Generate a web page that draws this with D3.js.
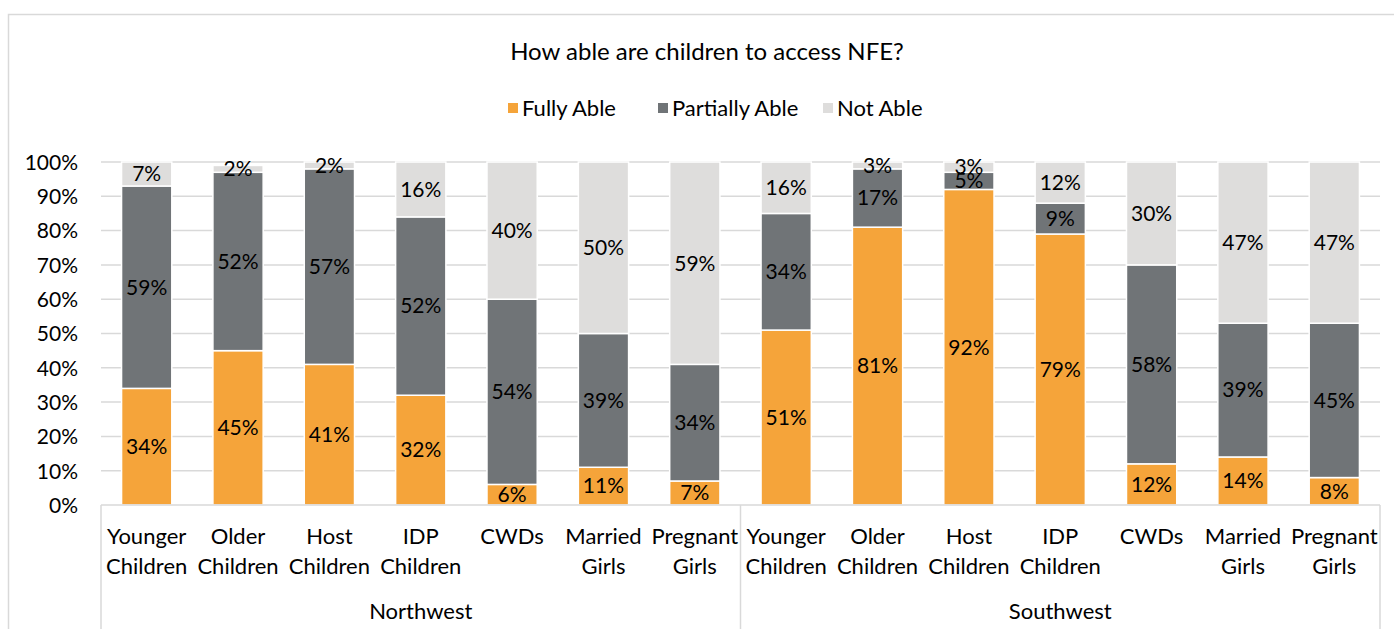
<!DOCTYPE html>
<html>
<head>
<meta charset="utf-8">
<script src="https://cdn.jsdelivr.net/npm/d3@7"></script>
<style>
  body { margin: 0; background: #fff; }
  text { font-family: Lato, "Open Sans", sans-serif; fill: #000; }
</style>
</head>
<body>
<div id="canvas"></div>
<script>
"use strict"

/* data */
let groups = ["Northwest", "Southwest"];
let categories = ["Younger|Children", "Older|Children", "Host|Children", "IDP|Children",
    "CWDs", "Married|Girls", "Pregnant|Girls"];
let seriesNames = ["Fully Able", "Partially Able", "Not Able"];
let fullyAble     = [34, 45, 41, 32, 6, 11, 7,   51, 81, 92, 79, 12, 14, 8];
let partiallyAble = [59, 52, 57, 52, 54, 39, 34, 34, 17, 5, 9, 58, 39, 45];
let notAble       = [7, 2, 2, 16, 40, 50, 59,    16, 3, 3, 12, 30, 47, 47];
let yTicks = [0, 10, 20, 30, 40, 50, 60, 70, 80, 90, 100];

let colors = ["#F5A43A", "#707477", "#DEDDDC"];

/* one row per bar, built from the arrays */
let rows = [];
groups.forEach(function (g, gi) {
    categories.forEach(function (c, ci) {
        let i = gi * categories.length + ci;
        rows.push({ key: g + ":" + c, group: g, label: c,
            "Fully Able": fullyAble[i], "Partially Able": partiallyAble[i], "Not Able": notAble[i] });
    });
});

let drawing = d3.select("#canvas")
    .append("svg")
    .attr("width", 1394)
    .attr("height", 629);

/* outer chart border */
drawing.append("rect")
    .attr("x", 8.5).attr("y", 14.5)
    .attr("width", 1400).attr("height", 640)
    .attr("fill", "none")
    .attr("stroke", "#D9D9D9")
    .attr("stroke-width", 1.5);

let plotLeft = 101, plotRight = 1380, plotTop = 162, plotBottom = 505;

let x = d3.scaleBand()
    .domain(rows.map(d => d.key))
    .range([plotLeft, plotRight])
    .paddingInner(0.45)
    .paddingOuter(0.225);

// rounded labels can add up to 101%, the chart stops at 100%
let y = d3.scaleLinear().domain([0, 100]).range([plotBottom, plotTop]).clamp(true);

/* title */
drawing.append("text")
    .attr("x", 707).attr("y", 60)
    .attr("text-anchor", "middle")
    .style("font-size", "24px")
    .text("How able are children to access NFE?");

/* legend */
let legendX = [508, 658, 823];
let legend = drawing.append("g");
seriesNames.forEach(function (s, i) {
    legend.append("rect")
        .attr("x", legendX[i]).attr("y", 103)
        .attr("width", 10).attr("height", 10)
        .attr("fill", colors[i]);
    legend.append("text")
        .attr("x", legendX[i] + 14).attr("y", 116)
        .style("font-size", "22px")
        .text(s);
});

/* gridlines */
drawing.append("g")
    .selectAll("line")
    .data(yTicks.filter(t => t > 0))
    .join("line")
    .attr("x1", plotLeft).attr("x2", plotRight)
    .attr("y1", d => y(d)).attr("y2", d => y(d))
    .attr("stroke", "#D9D9D9")
    .attr("stroke-width", 1.5);

/* y axis labels */
let yAxis = drawing.append("g")
    .attr("transform", "translate(" + (plotLeft - 23) + ",0)")
    .call(d3.axisLeft(y).tickValues(yTicks).tickFormat(d => d + "%").tickSize(0).tickPadding(0));
yAxis.select(".domain").remove();
yAxis.attr("font-family", null).attr("font-size", null);
yAxis.selectAll("text")
    .style("font-size", "21px")
    .attr("dy", "0.35em");

/* stacked bars */
let stack = d3.stack().keys(seriesNames);
let layers = stack(rows);

let layerG = drawing.append("g")
    .selectAll("g")
    .data(layers)
    .join("g")
    .attr("fill", (d, i) => colors[i]);

layerG.selectAll("rect")
    .data(d => d)
    .join("rect")
    .attr("x", d => x(d.data.key))
    .attr("width", x.bandwidth())
    .attr("y", d => y(d[1]))
    .attr("height", d => y(d[0]) - y(d[1]))
    .attr("stroke", "#fff")
    .attr("stroke-width", 1.5);

/* data labels */
drawing.append("g")
    .selectAll("g")
    .data(layers)
    .join("g")
    .selectAll("text")
    .data(d => d.map(v => ({ v: v, key: d.key })))
    .join("text")
    .attr("x", d => x(d.v.data.key) + x.bandwidth() / 2)
    .attr("y", d => (y(d.v[0]) + y(d.v[1])) / 2)
    .attr("dy", "0.35em")
    .attr("text-anchor", "middle")
    .style("font-size", "21px")
    .text(d => d.v.data[d.key] + "%");

/* x axis line and group separators */
drawing.append("line")
    .attr("x1", plotLeft).attr("x2", plotRight)
    .attr("y1", plotBottom).attr("y2", plotBottom)
    .attr("stroke", "#D9D9D9").attr("stroke-width", 1.5);

let groupEdges = [plotLeft, x(rows[categories.length].key) - x.step() * 0.225, plotRight];
drawing.append("g")
    .selectAll("line")
    .data(groupEdges)
    .join("line")
    .attr("x1", d => d).attr("x2", d => d)
    .attr("y1", plotBottom).attr("y2", 629)
    .attr("stroke", "#D9D9D9").attr("stroke-width", 1.5);

/* category labels */
let catText = drawing.append("g")
    .selectAll("text")
    .data(rows)
    .join("text")
    .attr("text-anchor", "middle")
    .style("font-size", "22px")
    .attr("transform", d => "translate(" + (x(d.key) + x.bandwidth() / 2) + ",0)");

catText.each(function (d) {
    let parts = d.label.split("|");
    let t = d3.select(this);
    parts.forEach(function (p, i) {
        t.append("tspan")
            .attr("x", 0)
            .attr("y", parts.length === 1 ? 544 : 544 + i * 30)
            .text(p);
    });
});

/* group labels */
drawing.append("g")
    .selectAll("text")
    .data(groups)
    .join("text")
    .attr("x", (d, i) => (groupEdges[i] + groupEdges[i + 1]) / 2)
    .attr("y", 619)
    .attr("text-anchor", "middle")
    .style("font-size", "22px")
    .text(d => d);
</script>
</body>
</html>
